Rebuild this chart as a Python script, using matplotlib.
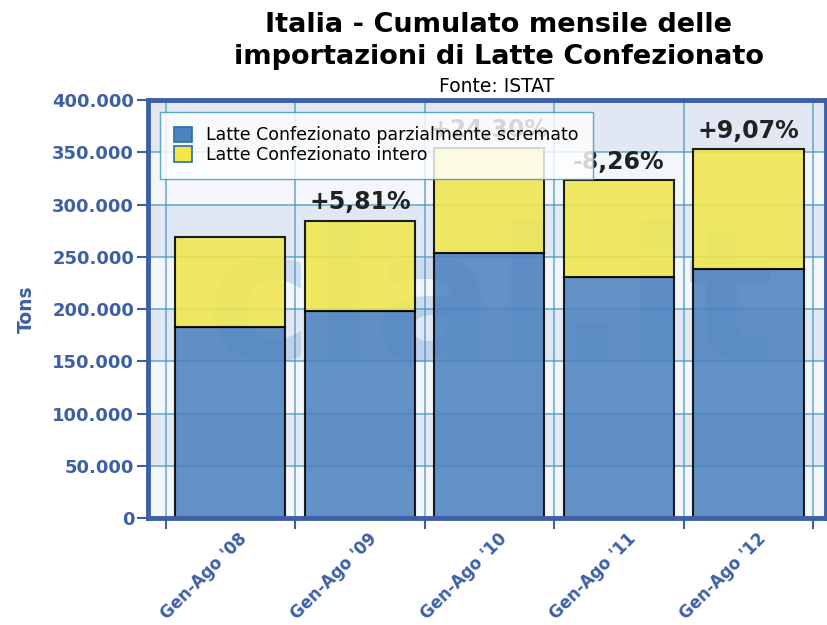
import numpy as np
import matplotlib
matplotlib.use('Agg')
import matplotlib.pyplot as plt
import matplotlib.transforms as mtransforms
from matplotlib.ticker import FuncFormatter, FixedLocator

periods = ["Gen-Ago '08", "Gen-Ago '09", "Gen-Ago '10", "Gen-Ago '11", "Gen-Ago '12"]
scremato = [182700, 198000, 253800, 230800, 238500]
intero = [86500, 86600, 100000, 92200, 114800]
variazioni = ['', '+5,81%', '+24,30%', '-8,26%', '+9,07%']

blue = '#4d83bf'
yellow = '#f0e74e'
axis_blue = '#3d5fa6'
grid_col = '#3f95c0'

fig = plt.figure(figsize=(8.27, 6.25), dpi=100)
ax = fig.add_axes([0.179, 0.171, 0.820, 0.669])

x = np.arange(len(periods))
totals = np.array(scremato) + np.array(intero)

# alternating background bands
for i, y0 in enumerate(range(0, 400000, 50000)):
    ax.axhspan(y0, y0 + 50000, color='#e1e8f3' if i % 2 else '#f3f6fb', zorder=0, lw=0)

# watermark sits behind the translucent bars
ax.text(2.0, 200000, 'clal.it', ha='center', va='center', fontsize=130,
        fontweight='bold', color='#3a70c0', alpha=0.2, zorder=0.5)

ax.bar(x, scremato, width=0.85, color=blue, edgecolor='black', linewidth=1.5,
       alpha=0.88, label='Latte Confezionato parzialmente scremato', zorder=2)
ax.bar(x, intero, width=0.85, bottom=scremato, color=yellow, edgecolor='black',
       linewidth=1.5, alpha=0.88, label='Latte Confezionato intero', zorder=2)

for xi, tot, lab in zip(x, totals, variazioni):
    if lab:
        ax.text(xi, tot + 6000, lab, ha='center', va='bottom', fontsize=17,
                fontweight='bold', color='#222222', zorder=3)

ax.set_xlim(-0.635, 4.6)
ax.set_ylim(0, 400000)

ax.yaxis.set_major_locator(FixedLocator(np.arange(0, 400001, 50000)))
ax.yaxis.set_major_formatter(FuncFormatter(lambda v, p: f'{int(v):,}'.replace(',', '.')))

ax.xaxis.set_major_locator(FixedLocator(np.arange(-0.5, 5, 1.0)))
ax.xaxis.set_major_formatter(FuncFormatter(lambda v, p: ''))
ax.xaxis.set_minor_locator(FixedLocator(x))
ax.set_xticklabels(periods, minor=True)
ax.tick_params(axis='x', which='minor', length=0, pad=10)
shift = mtransforms.ScaledTranslation(0.08, 0.02, fig.dpi_scale_trans)
for t in ax.get_xticklabels(minor=True):
    t.set_rotation(45)
    t.set_ha('right')
    t.set_rotation_mode('anchor')
    t.set_fontweight('bold')
    t.set_fontsize(12)
    t.set_color(axis_blue)
    t.set_transform(t.get_transform() + shift)

ax.tick_params(axis='both', which='major', length=8, width=1.5, color=axis_blue,
               labelcolor=axis_blue, labelsize=13)
ax.tick_params(axis='y', pad=2)
for t in ax.get_yticklabels():
    t.set_fontweight('bold')

ax.grid(True, which='major', color=grid_col, linewidth=1.1, alpha=0.8, zorder=1)
ax.set_axisbelow(True)

for side in ['left', 'bottom', 'top', 'right']:
    ax.spines[side].set_color(axis_blue)
    ax.spines[side].set_linewidth(3.5)

ax.set_ylabel('Tons', fontsize=13.5, fontweight='bold', color=axis_blue, labelpad=12)

leg = ax.legend(loc='upper left', bbox_to_anchor=(0.017, 0.972), fontsize=12.5,
                frameon=True, fancybox=False, framealpha=0.82, edgecolor=grid_col,
                handlelength=1.0, handleheight=1.0, handletextpad=0.8,
                borderpad=0.85, labelspacing=0.1, borderaxespad=0)
leg.set_zorder(5)
for h in leg.legend_handles:
    h.set_edgecolor('#2a6fa0')
    h.set_linewidth(1.2)
    h.set_alpha(1)

fig.text(0.603, 0.960, 'Italia - Cumulato mensile delle', ha='center', va='center',
         fontsize=19.5, fontweight='bold')
fig.text(0.603, 0.908, 'importazioni di Latte Confezionato', ha='center', va='center',
         fontsize=19.5, fontweight='bold')
fig.text(0.601, 0.862, 'Fonte: ISTAT', ha='center', va='center', fontsize=13.5)

fig.savefig('out.png', dpi=100)
